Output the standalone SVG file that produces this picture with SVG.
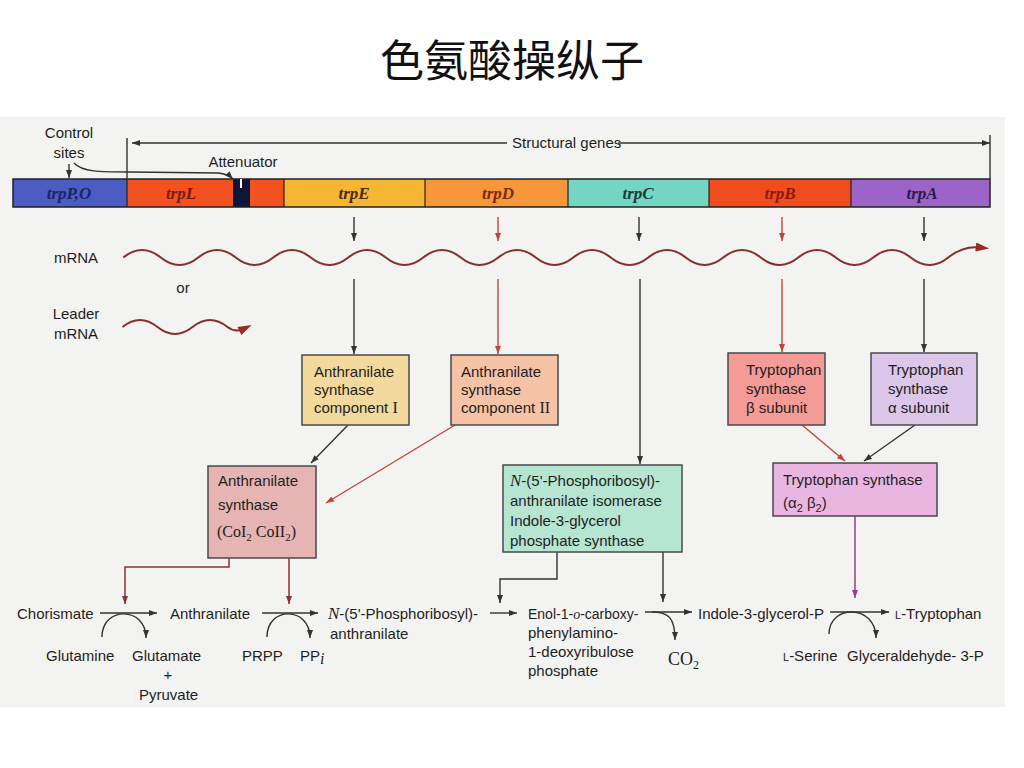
<svg xmlns="http://www.w3.org/2000/svg" width="1024" height="768" viewBox="0 0 1024 768">
<defs>
<style>
.t{font-family:"Liberation Sans",Arial,sans-serif;font-size:15px;fill:#1e1e1e}
.s{font-family:"Liberation Serif","Times New Roman",serif}
.g{font-family:"Liberation Serif","Times New Roman",serif;font-size:17px;font-weight:bold;font-style:italic;text-anchor:middle}
.box{stroke:#4a4a4a;stroke-width:1.5}
.k{stroke:#333;stroke-width:1.4;fill:none}
.r{stroke:#c0463a;stroke-width:1.4;fill:none}
.dr{stroke:#8a3232;stroke-width:1.5;fill:none}
.p{stroke:#9a3d8e;stroke-width:1.5;fill:none}
.w{stroke:#86302a;stroke-width:2;fill:none}
</style>
<marker id="ak" viewBox="0 0 8 6" refX="8" refY="3" markerWidth="8" markerHeight="6" markerUnits="userSpaceOnUse" orient="auto"><path d="M0,0 L8,3 L0,6 z" fill="#333"/></marker>
<marker id="ar" viewBox="0 0 8 6" refX="8" refY="3" markerWidth="8" markerHeight="6" markerUnits="userSpaceOnUse" orient="auto"><path d="M0,0 L8,3 L0,6 z" fill="#c0463a"/></marker>
<marker id="adr" viewBox="0 0 8 6" refX="8" refY="3" markerWidth="8" markerHeight="6" markerUnits="userSpaceOnUse" orient="auto"><path d="M0,0 L8,3 L0,6 z" fill="#8a3232"/></marker>
<marker id="ap" viewBox="0 0 8 6" refX="8" refY="3" markerWidth="8" markerHeight="6" markerUnits="userSpaceOnUse" orient="auto"><path d="M0,0 L8,3 L0,6 z" fill="#9a3d8e"/></marker>
<marker id="aw" viewBox="0 0 12 8" refX="4" refY="4" markerWidth="14" markerHeight="9" markerUnits="userSpaceOnUse" orient="auto"><path d="M0,0 L12,4 L0,8 z" fill="#9a2a22"/></marker>
</defs>
<rect x="0" y="0" width="1024" height="768" fill="#ffffff"/>
<rect x="0" y="117" width="1005" height="590" fill="#f3f3f1"/>
<text x="512" y="77" text-anchor="middle" style="font-family:'Noto Sans CJK SC','Noto Sans CJK TC',sans-serif;font-size:44px;fill:#111">色氨酸操纵子</text>

<g id="gene-bar">
<rect x="13" y="179" width="114" height="28" fill="#4b5cc2"/>
<rect x="127" y="179" width="106" height="28" fill="#f2521f"/>
<rect x="233" y="179" width="17" height="28" fill="#101438"/>
<rect x="250" y="179" width="34" height="28" fill="#f2521f"/>
<rect x="284" y="179" width="141" height="28" fill="#f6b634"/>
<rect x="425" y="179" width="143" height="28" fill="#f7973a"/>
<rect x="568" y="179" width="141" height="28" fill="#74d5c2"/>
<rect x="709" y="179" width="142" height="28" fill="#f14c1d"/>
<rect x="851" y="179" width="139" height="28" fill="#9d64c8"/>
<rect x="13" y="179" width="977" height="28" fill="none" stroke="#222" stroke-width="1.5"/>
<path d="M127,179V207M284,179V207M425,179V207M568,179V207M709,179V207M851,179V207" stroke="#222" stroke-width="1.2"/>
<line x1="241" y1="179" x2="241" y2="188" stroke="#fff" stroke-width="2"/>
<text class="g" x="69" y="199" fill="#1c2466">trpP,O</text>
<text class="g" x="181" y="199" fill="#7a1810">trpL</text>
<text class="g" x="354" y="199" fill="#4a2a10">trpE</text>
<text class="g" x="498" y="199" fill="#7a2a14">trpD</text>
<text class="g" x="638" y="199" fill="#1a3a40">trpC</text>
<text class="g" x="780" y="199" fill="#8a1a10">trpB</text>
<text class="g" x="922" y="199" fill="#2a1a50">trpA</text>
</g>

<g id="labels-top">
<text class="t" x="69" y="138" text-anchor="middle">Control</text>
<text class="t" x="69" y="158" text-anchor="middle">sites</text>
<text class="t" x="243" y="167" text-anchor="middle">Attenuator</text>
<text class="t" x="512" y="148">Structural genes</text>
<text class="t" x="76" y="263" text-anchor="middle">mRNA</text>
<text class="t" x="183" y="293" text-anchor="middle">or</text>
<text class="t" x="76" y="319" text-anchor="middle">Leader</text>
<text class="t" x="76" y="339" text-anchor="middle">mRNA</text>
</g>

<g id="mrna">
<path class="w" marker-end="url(#aw)" d="M123.25,257.5 q18.75,-15 37.5,0 t37.5,0 t37.5,0 t37.5,0 t37.5,0 t37.5,0 t37.5,0 t37.5,0 t37.5,0 t37.5,0 t37.5,0 t37.5,0 t37.5,0 t37.5,0 t37.5,0 t37.5,0 t37.5,0 t37.5,0 t37.5,0 t37.5,0 t37.5,0 t37.5,0 q15,-12 32,-10"/>
<path class="w" marker-end="url(#aw)" d="M122.5,327 q17.5,-14 35,0 t35,0 t35,0 q8,6 16,2"/>
</g>

<g id="connectors">
<path class="k" marker-end="url(#ak)" d="M69,164V178"/>
<path class="k" marker-end="url(#ak)" d="M74,163 C82,172 100,172 130,172 L218,173 Q228,174 233,179"/>
<path class="k" marker-end="url(#ak)" d="M507,143H132"/>
<path class="k" d="M127,138V179 M990,135V179"/>
<path class="k" marker-end="url(#ak)" d="M618,143H990"/>
<path class="k" marker-end="url(#ak)" d="M354,217V241"/>
<path class="r" marker-end="url(#ar)" d="M498,217V241"/>
<path class="k" marker-end="url(#ak)" d="M639,217V241"/>
<path class="r" marker-end="url(#ar)" d="M782,217V241"/>
<path class="k" marker-end="url(#ak)" d="M924,217V241"/>
<path class="k" marker-end="url(#ak)" d="M354,279V354"/>
<path class="r" marker-end="url(#ar)" d="M498,279V354"/>
<path class="k" marker-end="url(#ak)" d="M640,279V464"/>
<path class="r" marker-end="url(#ar)" d="M782,279V352"/>
<path class="k" marker-end="url(#ak)" d="M924,279V352"/>
<path class="k" marker-end="url(#ak)" d="M348,425L311,463"/>
<path class="r" marker-end="url(#ar)" d="M455,425L326,503"/>
<path class="r" marker-end="url(#ar)" d="M802,425L845,461"/>
<path class="k" marker-end="url(#ak)" d="M915,425L864,461"/>
<path class="dr" marker-end="url(#adr)" d="M229,558V567H125V604"/>
<path class="dr" marker-end="url(#adr)" d="M289,558V604"/>
<path class="k" marker-end="url(#ak)" d="M557,552V579H500V603"/>
<path class="k" marker-end="url(#ak)" d="M663,552V602"/>
<path class="p" marker-end="url(#ap)" d="M855,516V598"/>
<path class="k" marker-end="url(#ak)" d="M100,613H157"/>
<path class="k" marker-end="url(#ak)" d="M102,637 C102,606 146,606 146,638"/>
<path class="k" marker-end="url(#ak)" d="M262,613H318"/>
<path class="k" marker-end="url(#ak)" d="M267,637 C267,606 310,606 310,638"/>
<path class="k" marker-end="url(#ak)" d="M490,613H517"/>
<path class="k" marker-end="url(#ak)" d="M645,612H692"/>
<path class="k" marker-end="url(#ak)" d="M652,612 C668,612 675,617 675,640"/>
<path class="k" marker-end="url(#ak)" d="M830,612H889"/>
<path class="k" marker-end="url(#ak)" d="M829,634 C829,604 876,604 876,638"/>
</g>

<g id="comp1">
<rect class="box" x="302" y="355" width="107" height="70" fill="#f3d99c"/>
<text class="t" x="314" y="377">Anthranilate</text>
<text class="t" x="314" y="395">synthase</text>
<text class="t" x="314" y="413">component <tspan class="s" font-size="16">I</tspan></text>
</g>
<g id="comp2">
<rect class="box" x="451" y="355" width="107" height="70" fill="#f6c3a6"/>
<text class="t" x="461" y="377">Anthranilate</text>
<text class="t" x="461" y="395">synthase</text>
<text class="t" x="461" y="413">component <tspan class="s" font-size="16">II</tspan></text>
</g>
<g id="coi2coii2">
<rect class="box" x="208" y="466" width="108" height="92" fill="#e6b4b2"/>
<text class="t" x="218" y="486">Anthranilate</text>
<text class="t" x="218" y="510">synthase</text>
<text class="t s" x="217" y="537" style="font-size:16px">(CoI<tspan font-size="11" dy="4">2</tspan><tspan dy="-4"> CoII</tspan><tspan font-size="11" dy="4">2</tspan><tspan dy="-4">)</tspan></text>
</g>
<g id="isomerase">
<rect class="box" x="503" y="465" width="179" height="87" fill="#b6e5d1"/>
<text class="t" x="510" y="486"><tspan class="s" font-style="italic" font-size="17">N</tspan>-(5'-Phosphoribosyl)-</text>
<text class="t" x="510" y="506">anthranilate isomerase</text>
<text class="t" x="510" y="526">Indole-3-glycerol</text>
<text class="t" x="510" y="546">phosphate synthase</text>
</g>
<g id="beta">
<rect class="box" x="728" y="353" width="97" height="72" fill="#f49b98"/>
<text class="t" x="746" y="375">Tryptophan</text>
<text class="t" x="746" y="394">synthase</text>
<text class="t" x="746" y="413">β subunit</text>
</g>
<g id="alpha">
<rect class="box" x="871" y="353" width="106" height="72" fill="#dcc6ea"/>
<text class="t" x="888" y="375">Tryptophan</text>
<text class="t" x="888" y="394">synthase</text>
<text class="t" x="888" y="413">α subunit</text>
</g>
<g id="a2b2">
<rect class="box" x="773" y="463" width="164" height="53" fill="#e9b6e1"/>
<text class="t" x="783" y="485">Tryptophan synthase</text>
<text class="t" x="783" y="508">(α<tspan font-size="11" dy="4">2</tspan><tspan dy="-4"> β</tspan><tspan font-size="11" dy="4">2</tspan><tspan dy="-4">)</tspan></text>
</g>

<g id="pathway">
<text class="t" x="17" y="619">Chorismate</text>
<text class="t" x="170" y="619">Anthranilate</text>
<text class="t" x="328" y="619"><tspan class="s" font-style="italic" font-size="17">N</tspan>-(5'-Phosphoribosyl)-</text>
<text class="t" x="330" y="639">anthranilate</text>
<text class="t" x="528" y="619" style="font-size:14px">Enol-1-<tspan class="s" font-style="italic">o</tspan>-carboxy-</text>
<text class="t" x="528" y="638">phenylamino-</text>
<text class="t" x="528" y="657">1-deoxyribulose</text>
<text class="t" x="528" y="676">phosphate</text>
<text class="t" x="698" y="619">Indole-3-glycerol-P</text>
<text class="t" x="895" y="619"><tspan font-size="11">L</tspan>-Tryptophan</text>
<text class="t" x="46" y="661">Glutamine</text>
<text class="t" x="132" y="661">Glutamate</text>
<text class="t" x="168" y="680" text-anchor="middle">+</text>
<text class="t" x="139" y="700">Pyruvate</text>
<text class="t" x="242" y="661">PRPP</text>
<text class="t" x="300" y="661">PP<tspan class="s" font-style="italic" font-size="16" dy="3">i</tspan></text>
<text class="t s" x="668" y="665" style="font-size:18px">CO<tspan font-size="12" dy="4">2</tspan></text>
<text class="t" x="783" y="661"><tspan font-size="11">L</tspan>-Serine</text>
<text class="t" x="847" y="661">Glyceraldehyde- 3-P</text>
</g>
</svg>
